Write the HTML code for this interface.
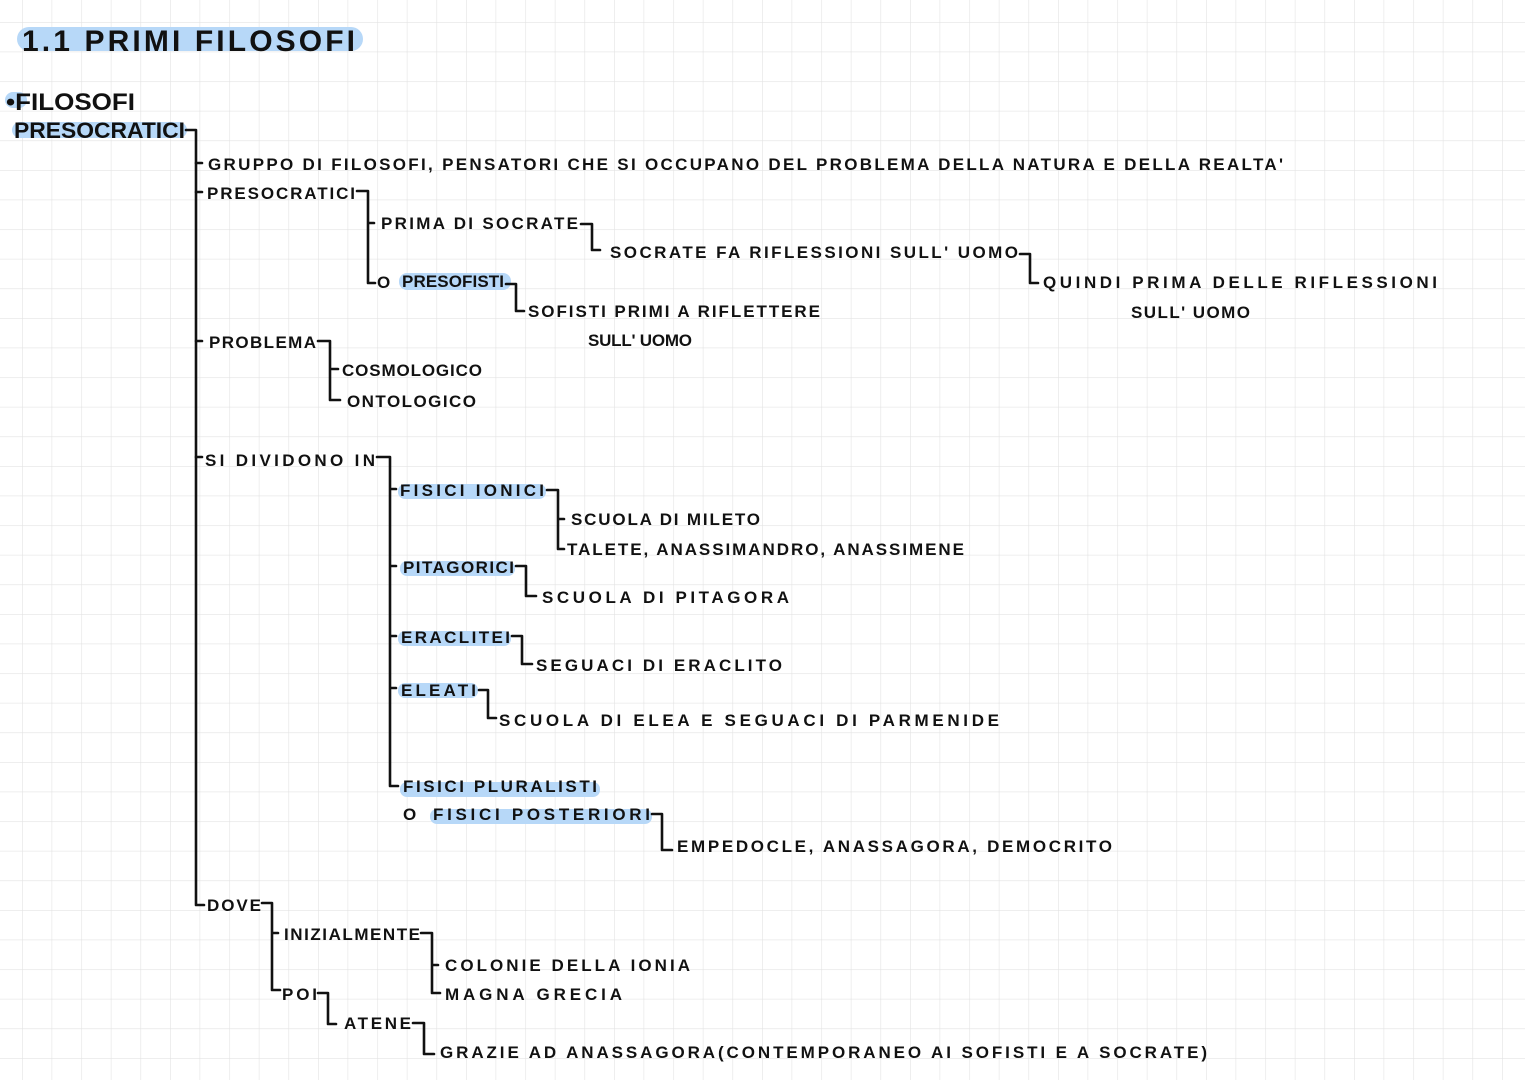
<!DOCTYPE html>
<html><head><meta charset="utf-8"><style>
html,body{margin:0;padding:0;width:1525px;height:1080px;overflow:hidden;background:#fff}
svg{display:block}
text{font-family:"Liberation Sans",sans-serif;font-weight:bold;fill:#111}
</style></head><body>
<svg width="1525" height="1080" xmlns="http://www.w3.org/2000/svg">
<defs>
<pattern id="g" x="22" y="22" width="29.6" height="29.6" patternUnits="userSpaceOnUse">
<path d="M0 0H29.6M0 0V29.6" stroke="#e3e3e3" stroke-width="1.2" fill="none"/>
</pattern>
</defs>
<rect width="1525" height="1080" fill="url(#g)"/>
<g fill="#b7d8f8">
<rect x="17" y="27" width="346" height="24" rx="12"/>
<rect x="5" y="92" width="22" height="16" rx="8"/>
<rect x="12" y="122" width="175" height="16" rx="8"/>
<rect x="399" y="273" width="112" height="17" rx="8"/>
<rect x="398" y="484" width="148" height="15" rx="7"/>
<rect x="400" y="561" width="115" height="15" rx="7"/>
<rect x="398" y="631" width="113" height="15" rx="7"/>
<rect x="398" y="683" width="80" height="15" rx="7"/>
<rect x="400" y="782" width="200" height="15" rx="7"/>
<rect x="430" y="809" width="222" height="15" rx="7"/>
</g>
<g stroke="#111" stroke-width="2.6" fill="none" stroke-linecap="round" stroke-linejoin="round">
<path d="M186 130H196V905H204"/>
<path d="M196 163H202M196 192H202M196 341H202M196 457H202"/>
<path d="M357 191H368V283H375M368 223H374"/>
<path d="M581 224H592V250H600"/>
<path d="M1020 254H1030V283H1038"/>
<path d="M506 284H516V311H524"/>
<path d="M318 341H330V400H340M330 369H338"/>
<path d="M377 457H390V786H398M390 489H396M390 566H396M390 636H396M390 688H396"/>
<path d="M547 490H558V549H564M558 519H564"/>
<path d="M516 566H526V596H536"/>
<path d="M512 636H522V664H532"/>
<path d="M479 690H488V718H496"/>
<path d="M652 814H662V850H672"/>
<path d="M262 903H272V990H280M272 933H278"/>
<path d="M421 933H432V993H440M432 965H438"/>
<path d="M318 993H328V1024H336"/>
<path d="M413 1023H424V1054H434"/>
</g>
<text x="22" y="51" font-size="30" textLength="333" lengthAdjust="spacing">1.1 PRIMI FILOSOFI</text>
<text x="6" y="110" font-size="24" textLength="129" lengthAdjust="spacingAndGlyphs">•FILOSOFI</text>
<text x="14" y="138" font-size="22" textLength="171" lengthAdjust="spacingAndGlyphs">PRESOCRATICI</text>
<g font-size="17">
<text x="208" y="170" textLength="1075" lengthAdjust="spacing">GRUPPO  DI  FILOSOFI, PENSATORI  CHE  SI  OCCUPANO  DEL  PROBLEMA  DELLA  NATURA   E DELLA  REALTA'</text>
<text x="207" y="199" textLength="148" lengthAdjust="spacing">PRESOCRATICI</text>
<text x="381" y="229" textLength="197" lengthAdjust="spacing">PRIMA DI SOCRATE</text>
<text x="610" y="258" textLength="408" lengthAdjust="spacing">SOCRATE FA RIFLESSIONI  SULL' UOMO</text>
<text x="1043" y="288" textLength="394" lengthAdjust="spacing">QUINDI  PRIMA  DELLE  RIFLESSIONI</text>
<text x="1131" y="318" textLength="119" lengthAdjust="spacing">SULL' UOMO</text>
<text x="377" y="288">O</text>
<text x="402" y="287" textLength="102" lengthAdjust="spacing">PRESOFISTI</text>
<text x="528" y="317" textLength="292" lengthAdjust="spacing">SOFISTI PRIMI A RIFLETTERE</text>
<text x="588" y="346" textLength="104" lengthAdjust="spacing">SULL' UOMO</text>
<text x="209" y="348" textLength="107" lengthAdjust="spacing">PROBLEMA</text>
<text x="342" y="376" textLength="140" lengthAdjust="spacing">COSMOLOGICO</text>
<text x="347" y="407" textLength="129" lengthAdjust="spacing">ONTOLOGICO</text>
<text x="205" y="466" textLength="170" lengthAdjust="spacing">SI DIVIDONO IN</text>
<text x="400" y="496" textLength="144" lengthAdjust="spacing">FISICI  IONICI</text>
<text x="571" y="525" textLength="189" lengthAdjust="spacing">SCUOLA DI MILETO</text>
<text x="567" y="555" textLength="397" lengthAdjust="spacing">TALETE, ANASSIMANDRO, ANASSIMENE</text>
<text x="403" y="573" textLength="111" lengthAdjust="spacing">PITAGORICI</text>
<text x="542" y="603" textLength="247" lengthAdjust="spacing">SCUOLA  DI  PITAGORA</text>
<text x="401" y="643" textLength="109" lengthAdjust="spacing">ERACLITEI</text>
<text x="536" y="671" textLength="246" lengthAdjust="spacing">SEGUACI  DI ERACLITO</text>
<text x="401" y="696" textLength="75" lengthAdjust="spacing">ELEATI</text>
<text x="499" y="726" textLength="500" lengthAdjust="spacing">SCUOLA  DI ELEA  E  SEGUACI  DI  PARMENIDE</text>
<text x="403" y="792" textLength="194" lengthAdjust="spacing">FISICI PLURALISTI</text>
<text x="403" y="820">O</text>
<text x="433" y="820" textLength="217" lengthAdjust="spacing">FISICI  POSTERIORI</text>
<text x="677" y="852" textLength="435" lengthAdjust="spacing">EMPEDOCLE, ANASSAGORA, DEMOCRITO</text>
<text x="207" y="911" textLength="54" lengthAdjust="spacing">DOVE</text>
<text x="284" y="940" textLength="136" lengthAdjust="spacing">INIZIALMENTE</text>
<text x="445" y="971" textLength="245" lengthAdjust="spacing">COLONIE  DELLA  IONIA</text>
<text x="445" y="1000" textLength="177" lengthAdjust="spacing">MAGNA  GRECIA</text>
<text x="282" y="1000" textLength="35" lengthAdjust="spacing">POI</text>
<text x="344" y="1029" textLength="67" lengthAdjust="spacing">ATENE</text>
<text x="440" y="1058" textLength="767" lengthAdjust="spacing">GRAZIE  AD ANASSAGORA(CONTEMPORANEO  AI  SOFISTI E  A  SOCRATE)</text>
</g>
</svg>
</body></html>
